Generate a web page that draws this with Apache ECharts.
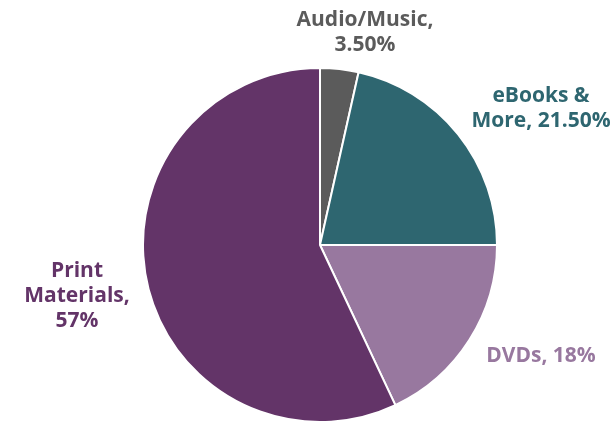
<!DOCTYPE html>
<html><head><meta charset="utf-8">
<script src="https://cdn.jsdelivr.net/npm/echarts@6/dist/echarts.min.js"></script>
<style>html,body{margin:0;padding:0;background:#fff}#c{width:611px;height:422px}</style>
</head><body><div id="c"></div>
<script>
const categories = ["Audio/Music", "eBooks &\nMore", "DVDs", "Print\nMaterials"];
const valueLabels = ["3.50%", "21.50%", "18%", "57%"];
const values = [3.5, 21.5, 18, 57];
const colors = ["#5b5b5b", "#2e6670", "#98789f", "#633468"];
const labelPos = [[365, 33], [541, 109], [541, 356], [77, 296]];
const labelText = ["Audio/Music,\n3.50%", "eBooks &\nMore, 21.50%", "DVDs, 18%", "Print\nMaterials,\n57%"];

const chart = echarts.init(document.getElementById('c'));
chart.setOption({
  animation: false,
  series: [{
    type: 'pie',
    center: [320, 245],
    radius: 177,
    startAngle: 90,
    clockwise: true,
    itemStyle: { borderColor: '#fff', borderWidth: 2 },
    labelLine: { show: false },
    label: {
      show: true,
      position: 'outside',
      fontFamily: 'Open Sans',
      fontWeight: 'bold',
      fontSize: 21,
      lineHeight: 25,
      align: 'center',
      overflow: 'none',
      formatter: p => labelText[p.dataIndex]
    },
    labelLayout: p => ({ x: labelPos[p.dataIndex][0], y: labelPos[p.dataIndex][1], align: 'center', verticalAlign: 'middle' }),
    data: categories.map((c, i) => ({
      name: c, value: values[i],
      itemStyle: { color: colors[i] },
      label: { color: colors[i], overflow: 'none', width: 200 }
    }))
  }]
});
</script></body></html>
